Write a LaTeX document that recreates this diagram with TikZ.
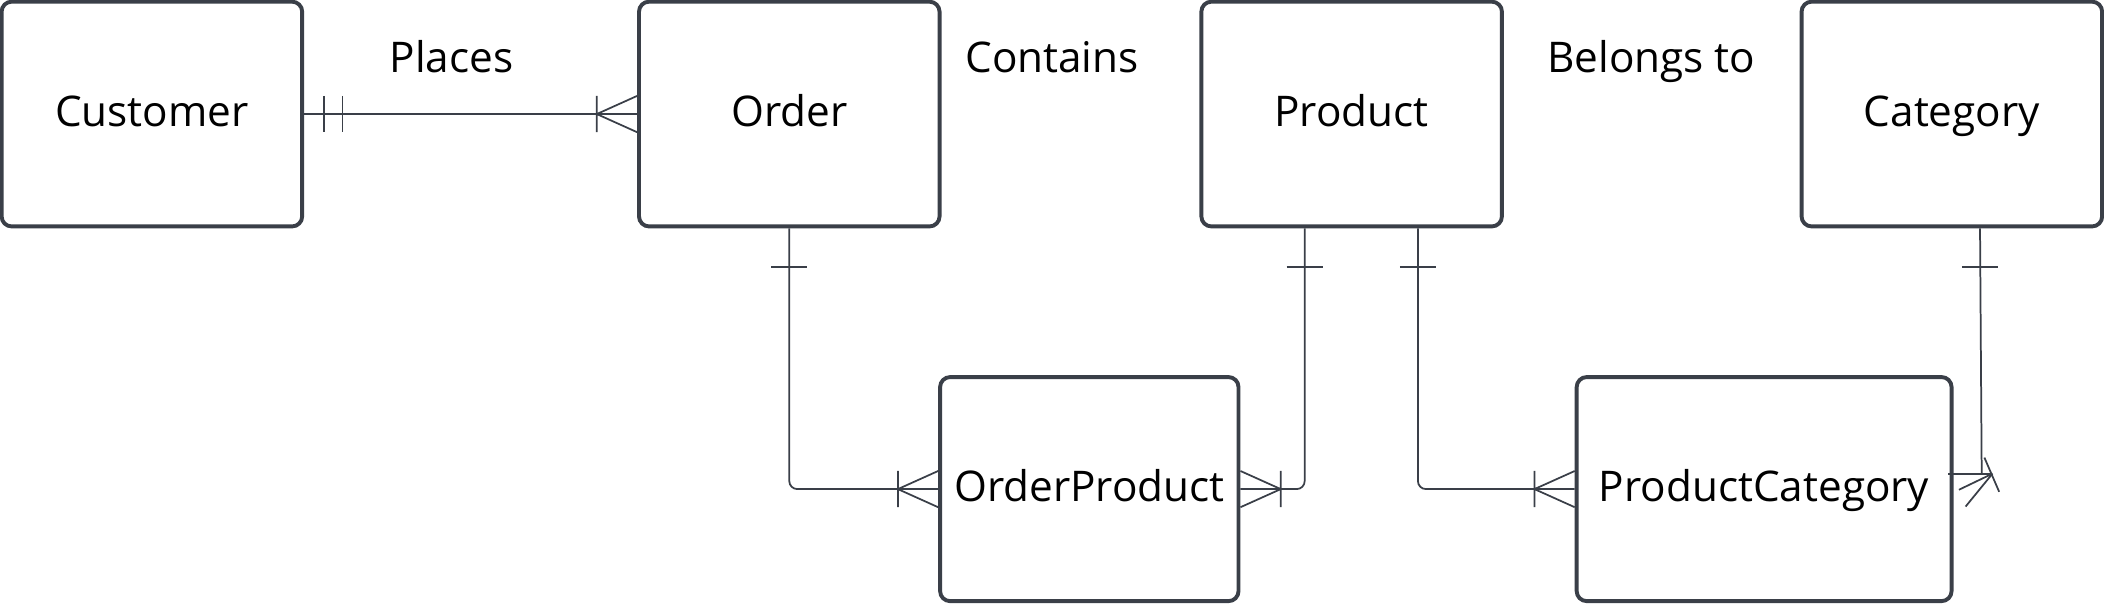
\documentclass[tikz,border=0pt]{standalone}
\usepackage{fontspec}
\setmainfont{Open Sans}
\usetikzlibrary{calc}
\definecolor{ink}{RGB}{58,63,72}
\tikzset{
  entity/.style={draw=ink, line width=2.9pt, rounded corners=7.5pt, fill=white,
    inner sep=0pt, font=\fontsize{31.5}{37}\selectfont, text=black,
    text height=19pt, text depth=0pt},
  rellabel/.style={inner sep=0pt, font=\fontsize{31.5}{37}\selectfont, text=black,
    text height=20pt, text depth=0pt},
  conn/.style={draw=ink, line width=1.3pt},
  crow/.pic={\draw[conn] (-30,0) -- (0,13.5) (-30,0) -- (0,-13.5) (-30,-13.5) -- (-30,13.5);},
}
\begin{document}
\begin{tikzpicture}[x=1pt,y=-1pt]
\useasboundingbox (0,0) rectangle (1568,450);

% entities
\node[entity, minimum width=224pt, minimum height=167.5pt] (customer) at (113.2,85) {Customer};
\node[entity, minimum width=224pt, minimum height=167.5pt] (order) at (588.2,85) {Order};
\node[entity, minimum width=224pt, minimum height=167.5pt] (product) at (1007.3,85) {Product};
\node[entity, minimum width=224pt, minimum height=167.5pt] (category) at (1454.6,85) {Category};
\node[entity, minimum width=222.4pt, minimum height=167pt] (orderproduct) at (811.8,364.5) {OrderProduct};
\node[entity, minimum width=279.4pt, minimum height=167pt] (productcategory) at (1314.7,364.5) {ProductCategory};

% relation labels
\node[rellabel] (places) at (336.4,44) {Places};
\node[rellabel] (contains) at (784,44) {Contains};
\node[rellabel] (belongs) at (1230.7,44) {Belongs to};

% Customer -- Order
\draw[conn] (customer.east) -- (order.west);
\draw[conn] ($(customer.east)+(15,-13.5)$) -- ($(customer.east)+(15,13.5)$);
\draw[conn] ($(customer.east)+(28.5,-13.5)$) -- ($(customer.east)+(28.5,13.5)$);
\pic at (order.west) {crow};

% Order -- OrderProduct
\draw[conn, rounded corners=6pt] (order.south) |- (orderproduct.west);
\draw[conn] ($(order.south)+(-13.5,28.5)$) -- ($(order.south)+(13.5,28.5)$);
\pic at (orderproduct.west) {crow};

% Product -- OrderProduct
\coordinate (p1) at ($(product.south)+(-35,0)$);
\draw[conn, rounded corners=6pt] (p1) |- (orderproduct.east);
\draw[conn] ($(p1)+(-13.5,28.5)$) -- ($(p1)+(13.5,28.5)$);
\pic[xscale=-1] at (orderproduct.east) {crow};

% Product -- ProductCategory
\coordinate (p2) at ($(product.south)+(49.4,0)$);
\draw[conn, rounded corners=6pt] (p2) |- (productcategory.west);
\draw[conn] ($(p2)+(-13.5,28.5)$) -- ($(p2)+(13.5,28.5)$);
\pic at (productcategory.west) {crow};

% Category -- ProductCategory
\coordinate (c0) at ($(category.south)+(21,0)$);
\coordinate (c5) at ($(productcategory.east)+(21,-11.5)$);
\coordinate (heel) at ($(productcategory.east)+(29,-11.5)$);
\draw[conn] (c0) -- (c5);
\draw[conn] ($(c0)+(-13.5,28.5)$) -- ($(c0)+(13.5,28.5)$);
\draw[conn] ($(productcategory.east)+(-4,-11.5)$) -- (heel);
\draw[conn] (heel) -- ($(productcategory.east)+(4,0.5)$);
\draw[conn] (heel) -- ($(productcategory.east)+(9,13)$);
\draw[conn] ($(productcategory.east)+(23,-23.5)$) -- ($(productcategory.east)+(34,2)$);
\end{tikzpicture}
\end{document}
